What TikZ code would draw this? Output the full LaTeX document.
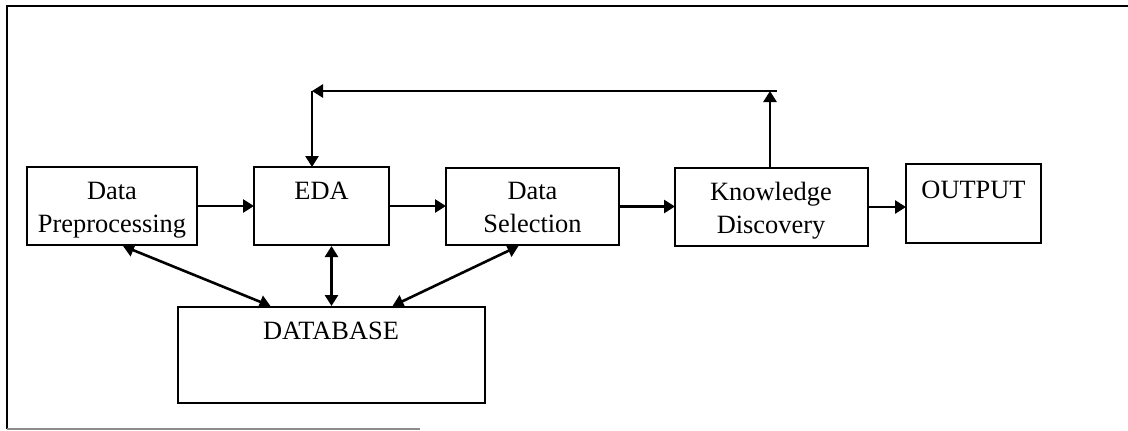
\documentclass[tikz,border=0pt]{standalone}
\usepackage{fontspec}
\setmainfont{Liberation Serif}
\usetikzlibrary{arrows.meta,calc}
\begin{document}
\begin{tikzpicture}[x=0.5pt,y=-0.5pt,
  box/.style={draw,line width=1.3pt,inner sep=0pt,outer sep=0pt,rectangle},
  lbl/.style={anchor=base,align=center,inner sep=0pt,
    font=\fontsize{13.2}{16.5}\selectfont},
  arr/.style={line width=1.3pt,-{Triangle[length=5.5pt,width=6.5pt]}},
  darr/.style={line width=1.3pt,{Triangle[length=5.5pt,width=6.5pt]}-{Triangle[length=5.5pt,width=6.5pt]}}]
\useasboundingbox (0,0) rectangle (1128,430);
% outer frame
\draw[line width=1.2pt] (1128,6) -- (7,6) -- (7,429);
\draw[line width=0.9pt,black!45] (7,429) -- (420,429);
% process boxes
\node[box,minimum width=85pt,minimum height=39pt] (dp) at (112,206) {};
\node[box,minimum width=67.5pt,minimum height=39pt] (eda) at (321.5,206) {};
\node[box,minimum width=86.5pt,minimum height=38.5pt] (ds) at (532.5,206.5) {};
\node[box,minimum width=96.5pt,minimum height=39pt] (kd) at (771.5,207) {};
\node[box,minimum width=67.5pt,minimum height=39.5pt] (out) at (973.5,203.5) {};
\node[box,minimum width=153.5pt,minimum height=48pt] (db) at (331.5,355) {};
% labels (base anchor sits on the last line)
\node[lbl] (dpt) at (112,232) {Data\\Preprocessing};
\node[lbl] (edat) at (321.5,199) {EDA};
\node[lbl] (dst) at (532.5,232) {Data\\Selection};
\node[lbl] (kdt) at (771,233) {Knowledge\\Discovery};
\node[lbl] (outt) at (973.5,198) {OUTPUT};
\node[lbl] (dbt) at (331,339) {DATABASE};
% main flow
\draw[arr] (dp.east) -- (eda.west);
\draw[arr] (eda.east) -- (ds.west |- eda.east);
\draw[arr] (ds.east) -- (kd.west |- ds.east);
\draw[arr] (kd.east) -- (out.west |- kd.east);
% feedback loop
\coordinate (fr) at (770,91);
\coordinate (fl) at (312,91);
\draw[arr] (kd.north -| fr) -- (fr);
\draw[arr] ($(fr)+(7,0)$) -- (fl);
\draw[arr] (fl) -- (eda.north -| fl);
% database links
\draw[darr] ($(dp.south)+(11,1)$) -- ($(db.north)+(-61,-1)$);
\draw[darr] ($(db.north)+(0,-1)$) -- ($(db.north |- eda.south)+(0,1)$);
\draw[darr] ($(ds.south)+(-14,1)$) -- ($(db.north)+(61,-1)$);
\end{tikzpicture}
\end{document}
